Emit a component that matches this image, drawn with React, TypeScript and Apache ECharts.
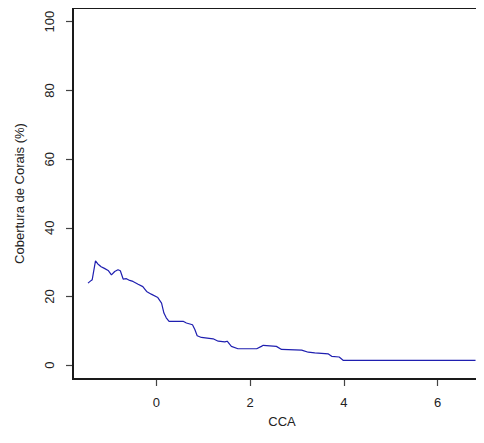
import React, { useEffect, useRef } from "react";
import * as echarts from "echarts";

const ccaValues = [
  -1.46, -1.39, -1.37, -1.3, -1.25, -1.18, -1.11, -1.03, -0.96, -0.89, -0.82, -0.77,
  -0.71, -0.64, -0.57, -0.5, -0.39, -0.29, -0.21, -0.11, 0.03, 0.11, 0.16, 0.21,
  0.27, 0.5, 0.57, 0.64, 0.77, 0.82, 0.87, 0.96, 1.21, 1.32, 1.46, 1.51, 1.6, 1.74,
  2.14, 2.24, 2.28, 2.56, 2.67, 3.1, 3.24, 3.38, 3.67, 3.74, 3.9, 3.99, 6.81,
];
const coverValues = [
  23.9, 24.7, 24.9, 30.4, 29.5, 28.7, 28.2, 27.6, 26.3, 27.3, 27.8, 27.5,
  25.1, 25.2, 24.7, 24.4, 23.6, 22.9, 21.5, 20.7, 19.7, 18.1, 15.2, 13.8,
  12.8, 12.8, 12.8, 12.3, 11.8, 10.4, 8.6, 8.1, 7.7, 7.0, 6.8, 7.0, 5.5, 4.8,
  4.8, 5.5, 5.8, 5.5, 4.6, 4.4, 3.8, 3.6, 3.3, 2.6, 2.4, 1.4, 1.4,
];
const xTicks = [0, 2, 4, 6];
const yTicks = [0, 20, 40, 60, 80, 100];

const FONT = "Liberation Sans, Arial, Helvetica, sans-serif";

export default function App() {
  const ref = useRef<HTMLDivElement>(null);
  useEffect(() => {
    if (!ref.current) return;
    const chart = echarts.init(ref.current, undefined, { renderer: "svg" });
    const data = ccaValues.map((x, i) => [x, coverValues[i]]);
    const frame = { stroke: "#1a1a1a", lineWidth: 2 };
    chart.setOption({
      animation: false,
      backgroundColor: "#ffffff",
      grid: {
        left: 73,
        top: 8,
        right: 1,
        bottom: 64,
      },
      graphic: [
        {
          type: "rect",
          silent: true,
          z: 100,
          shape: { x: 73, y: 8, width: 418, height: 371 },
          style: { fill: "none", ...frame },
        },
        {
          type: "line",
          silent: true,
          z: 101,
          shape: { x1: 73, y1: 7, x2: 73, y2: 380 },
          style: frame,
        },
        {
          type: "line",
          silent: true,
          z: 101,
          shape: { x1: 72, y1: 8, x2: 492, y2: 8 },
          style: frame,
        },
      ],
      xAxis: {
        type: "value",
        min: -1.78,
        max: 7.14,
        name: "CCA",
        nameLocation: "middle",
        nameGap: 36,
        nameTextStyle: { color: "#222", fontSize: 13, fontFamily: FONT },
        axisLine: { show: false, onZero: false },
        splitLine: { show: false },
        axisTick: {
          show: true,
          inside: false,
          length: 7,
          customValues: xTicks,
          lineStyle: { color: "#444", width: 1.2 },
        },
        axisLabel: {
          customValues: xTicks,
          margin: 17,
          color: "#222",
          fontSize: 13,
          fontFamily: FONT,
        },
      },
      yAxis: {
        type: "value",
        min: -4,
        max: 104,
        name: "Cobertura de Corais (%)",
        nameLocation: "middle",
        nameGap: 47,
        nameRotate: 90,
        nameTextStyle: { color: "#222", fontSize: 13, fontFamily: FONT },
        axisLine: { show: false, onZero: false },
        splitLine: { show: false },
        axisTick: {
          show: true,
          inside: false,
          length: 7,
          customValues: yTicks,
          lineStyle: { color: "#444", width: 1.2 },
        },
        axisLabel: {
          customValues: yTicks,
          rotate: 90,
          margin: 17,
          color: "#222",
          fontSize: 13,
          fontFamily: FONT,
        },
      },
      series: [
        {
          type: "line",
          data,
          showSymbol: false,
          symbol: "none",
          lineStyle: { color: "#1f1fb0", width: 1.2 },
        },
      ],
    });
    return () => chart.dispose();
  }, []);
  return (
    <div style={{ width: 484, height: 443, margin: -8, overflow: "hidden" }}>
      <div ref={ref} style={{ width: 492, height: 443 }} />
    </div>
  );
}
